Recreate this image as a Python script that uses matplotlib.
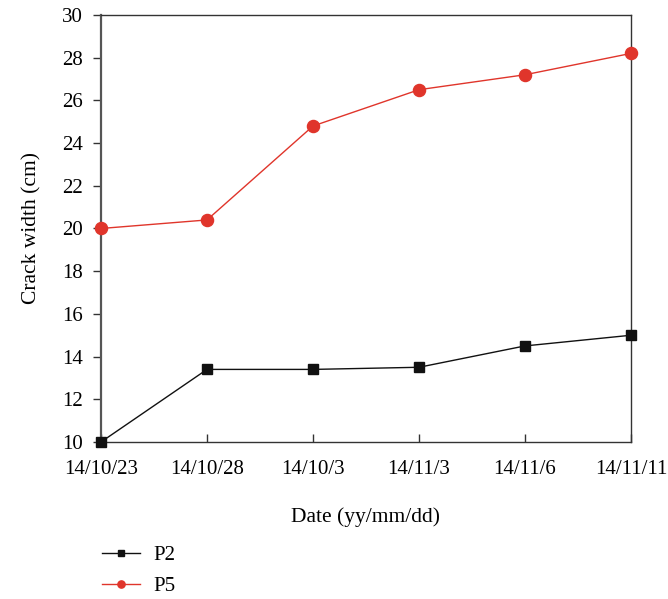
import matplotlib
matplotlib.use("Agg")
import matplotlib.pyplot as plt

# crack width readings at the two monitoring points
dates = ["14/10/23", "14/10/28", "14/10/3", "14/11/3", "14/11/6", "14/11/11"]
p2 = [10.0, 13.4, 13.4, 13.5, 14.5, 15.0]
p5 = [20.0, 20.4, 24.8, 26.5, 27.2, 28.2]

plt.rcParams["font.family"] = ["Liberation Serif", "DejaVu Serif"]
plt.rcParams["font.size"] = 15

fig = plt.figure(figsize=(6.68, 5.99), dpi=100)
ax = fig.add_axes([0.1512, 0.2621, 0.7934, 0.7129])

x = list(range(len(dates)))
l2, = ax.plot(x, p2, color="#111111", lw=1.0, marker="s", ms=7.8,
              label="P2", clip_on=False, zorder=3)
l5, = ax.plot(x, p5, color="#e0352b", lw=1.0, marker="o", ms=8.7,
              label="P5", clip_on=False, zorder=3)

ax.set_xlim(0, len(dates) - 1)
ax.set_ylim(10, 30)
ax.set_yticks(range(10, 31, 2))
ax.set_xticks(x)
ax.set_xticklabels(dates)

for s in ax.spines.values():
    s.set_color("#333333")
    s.set_linewidth(1.0)
ax.spines["left"].set_color("#555555")
ax.spines["left"].set_linewidth(1.6)

ax.tick_params(axis="y", direction="out", length=6, width=1.0, color="#333333",
               pad=7, labelsize=15)
ax.tick_params(axis="x", direction="in", length=6, width=1.0, color="#333333",
               pad=13, labelsize=15)

ax.set_ylabel("Crack width (cm)", fontsize=15.5, labelpad=15)
ax.set_xlabel("Date (yy/mm/dd)", fontsize=15.5, labelpad=20)

fig.legend(handles=[l2, l5], loc="upper left", bbox_to_anchor=(0.125, 0.12),
           frameon=False, fontsize=15, handlelength=1.8, handletextpad=0.65,
           labelspacing=0.55, markerscale=0.6)

fig.savefig("out.png", dpi=100)
